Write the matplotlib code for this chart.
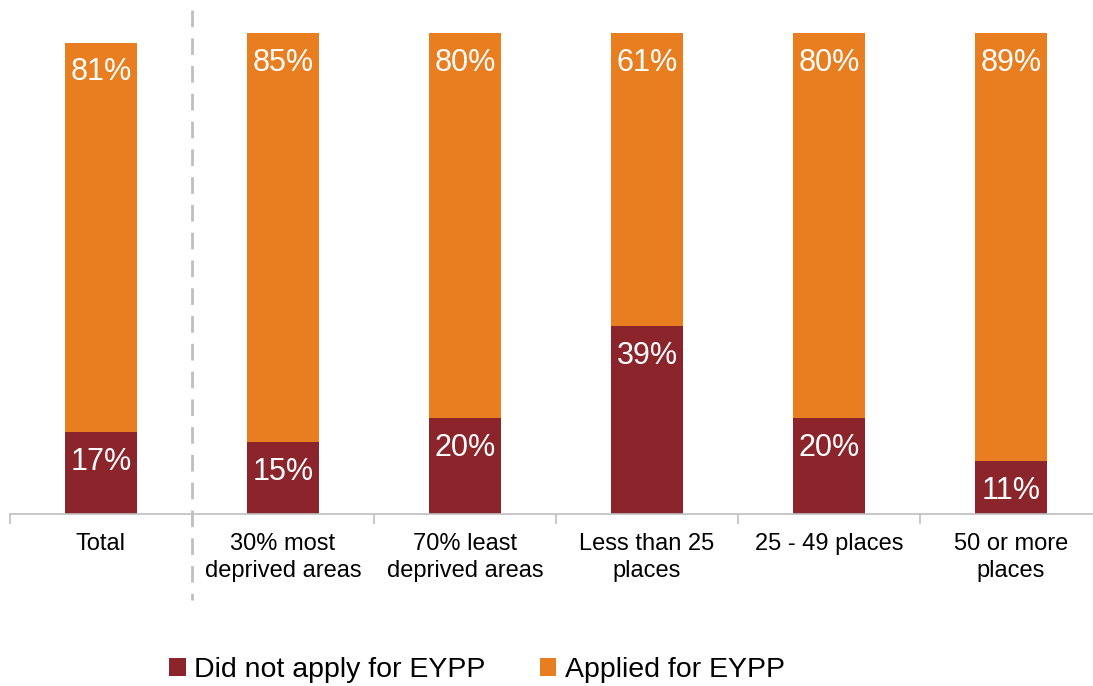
import matplotlib.pyplot as plt
import numpy as np

# === 資料 ===
categories = ["Total", "30% most\ndeprived areas", "70% least\ndeprived areas",
              "Less than 25\nplaces", "25 - 49 places", "50 or more\nplaces"]
did_not_apply = [17, 15, 20, 39, 20, 11]
applied = [81, 85, 80, 61, 80, 89]

dark_red = "#8B252B"
orange = "#E87E1F"
grey = "#BFBFBF"

plt.rcParams['font.family'] = ['Liberation Sans', 'DejaVu Sans']

fig = plt.figure(figsize=(10.93, 6.86), dpi=100)
ax = fig.add_axes([10 / 1093, 172 / 686, 1092 / 1093, 481 / 686])

x = np.arange(len(categories))
width = 0.4
ax.bar(x, did_not_apply, width, color=dark_red, label="Did not apply for EYPP")
ax.bar(x, applied, width, bottom=did_not_apply, color=orange, label="Applied for EYPP")

# 數值標籤（白色，放在每段頂端下方）
for xi, d, a in zip(x, did_not_apply, applied):
    ax.annotate(f"{d}%", (xi, d), xytext=(0, -21.5), textcoords="offset points",
                ha="center", va="center", color="white", fontsize=22)
    ax.annotate(f"{a}%", (xi, d + a), xytext=(0, -21.5), textcoords="offset points",
                ha="center", va="center", color="white", fontsize=22)

ax.set_xlim(-0.5, len(categories) - 0.5)
ax.set_ylim(0, 100)

# 軸線與刻度
for side in ["top", "right", "left"]:
    ax.spines[side].set_visible(False)
ax.spines["bottom"].set_color(grey)
ax.spines["bottom"].set_linewidth(1.2)
ax.set_yticks([])
ax.set_xticks(x)
ax.set_xticklabels(categories, fontsize=17, linespacing=1.27)
ax.tick_params(axis="x", length=0, pad=14)
ax.set_xticks(np.arange(len(categories) + 1) - 0.5, minor=True)
ax.tick_params(axis="x", which="minor", length=7, color=grey, width=1.2)

# Total 與其他類別之間的虛線
ax.plot([0.5, 0.5], [104.8, -17.9], color=grey, linestyle=(0, (6, 4)),
        linewidth=2, clip_on=False)

fig.legend(loc="center", bbox_to_anchor=(477 / 1093, 16 / 686), ncol=2,
           frameon=False, fontsize=20.5, handlelength=0.57, handleheight=0.57,
           handletextpad=0.3, columnspacing=1.9)

plt.savefig("out.png", dpi=100)
